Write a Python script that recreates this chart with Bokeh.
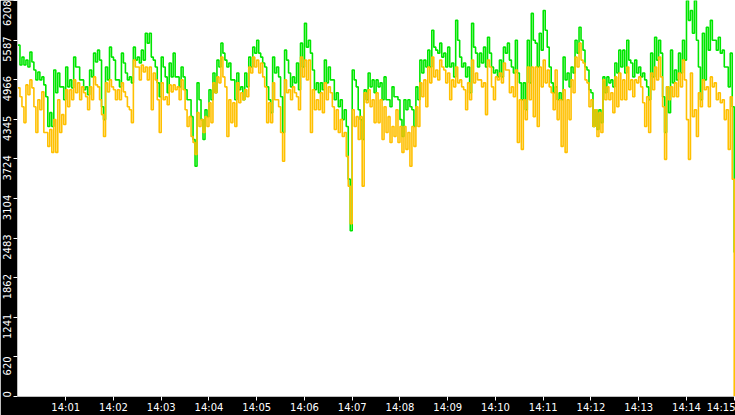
from bokeh.plotting import figure
from bokeh.models import Range1d, FixedTicker
from bokeh.embed import file_html
from bokeh.resources import INLINE

# samples every 2.5 s from 14:00:00 to 14:15:00 (seconds after 14:00:00)
seconds = [k * 2.5 for k in range(361)]

green_values = [
    5508, 5197, 5321, 5197, 5274, 5166, 5399, 5243, 5119, 4963, 5088, 4963, 5010, 4885, 4699, 4232, 4450, 4232, 5119, 4761,
    5072, 4854, 4854, 4652, 5166, 4854, 4963, 4839, 5321, 5166, 5166, 4963, 4963, 4808, 4854, 4730, 5119, 5010, 5383, 5243,
    5430, 5274, 4543, 4341, 5166, 4963, 5477, 5321, 5274, 4963, 4963, 4854, 5383, 5228, 5072, 4963, 5010, 4917, 5477, 5274,
    5321, 5228, 5430, 5274, 5695, 5539, 5695, 5321, 5274, 5166, 4917, 4699, 5321, 5166, 5010, 4761, 5228, 5010, 5383, 5010,
    5010, 4854, 5166, 5010, 4808, 4652, 4652, 4387, 4030, 3609, 4917, 4652, 4341, 4030, 4496, 4387, 4808, 4652, 5072, 4761,
    5274, 5166, 5539, 5383, 5274, 5166, 5228, 4963, 4963, 4652, 5072, 4808, 4854, 4652, 5072, 4854, 5321, 5166, 5477, 5383,
    5586, 5383, 5321, 5228, 5166, 4854, 4652, 4450, 5321, 5072, 5166, 5010, 4699, 4139, 5430, 5274, 5072, 4854, 5010, 4917,
    5228, 4808, 5539, 5166, 5850, 5477, 5586, 5383, 5119, 4808, 4917, 4761, 4917, 4808, 5274, 4917, 5166, 4963, 4963, 4652,
    4761, 4543, 4652, 4341, 4496, 4232, 3407, 2598, 5119, 4963, 4854, 4496, 4341, 4030, 4808, 4652, 5072, 4854, 4963, 4761,
    4963, 4854, 4917, 4652, 5010, 4652, 4652, 4543, 4854, 4699, 4699, 4652, 4341, 4076, 4652, 4496, 4652, 4543, 4496, 4232,
    4854, 4652, 5274, 5072, 5274, 5166, 5430, 5166, 5741, 5477, 5430, 5383, 5539, 5321, 5383, 5166, 5477, 5166, 5228, 5010,
    5897, 5586, 5321, 5166, 5228, 5010, 5166, 4761, 5850, 5477, 5383, 5166, 5383, 5228, 5477, 5166, 5632, 5383, 5166, 5072,
    5119, 5010, 5274, 5010, 5477, 5383, 5539, 5274, 5166, 5072, 5586, 5072, 4917, 4652, 4917, 4496, 5586, 4917, 6006, 5586,
    5539, 5166, 5695, 5430, 6052, 5741, 5477, 5166, 4917, 4761, 4854, 4652, 4761, 4652, 5321, 4963, 5072, 4854, 5166, 5072,
    5586, 5383, 5788, 5586, 5430, 5166, 5119, 4808, 4761, 4232, 4496, 4185, 4496, 4294, 5010, 4761, 5010, 4917, 4963, 4854,
    5228, 5072, 5430, 5166, 5430, 5072, 5586, 5274, 5228, 5010, 5274, 5072, 5166, 5010, 5072, 4963, 4854, 4652, 5383, 5010,
    5632, 5274, 5586, 5383, 4699, 4139, 4854, 4450, 5430, 4917, 5119, 4963, 5383, 5072, 5586, 5274, 6208, 5897, 6052, 5695,
    6208, 5586, 5166, 4652, 5695, 4963, 5788, 5430, 5897, 5586, 5586, 5430, 5632, 5383, 5430, 5166, 5166, 4854, 5383, 4543,
    2256,
]

orange_values = [
    4839, 4699, 4543, 4294, 4885, 4730, 4963, 4839, 4543, 4139, 4652, 4496, 4776, 4139, 4139, 3921, 4185, 3827, 4341, 3827,
    4652, 4139, 4419, 4263, 4808, 4543, 4808, 4652, 4963, 4761, 4917, 4652, 4854, 4761, 4699, 4496, 4854, 4652, 5010, 4885,
    4854, 4652, 4419, 4076, 4917, 4776, 4963, 4854, 4808, 4652, 4808, 4652, 4917, 4776, 4699, 4543, 4496, 4294, 5274, 5166,
    5166, 4963, 5197, 5088, 5166, 4963, 5166, 4496, 5072, 4963, 4652, 4139, 4917, 4652, 4699, 4574, 4885, 4776, 4885, 4808,
    4854, 4652, 4963, 4808, 4496, 4232, 4387, 4076, 3983, 3796, 4450, 4232, 4341, 4139, 4387, 4232, 4605, 4294, 4917, 4761,
    5010, 4917, 5321, 5010, 4854, 4076, 4652, 4294, 4605, 4232, 4917, 4605, 4761, 4652, 4808, 4699, 5166, 5072, 5321, 5166,
    5274, 5072, 5228, 5010, 4854, 4294, 4605, 4294, 4917, 4652, 4652, 4543, 4139, 3687, 4963, 4761, 4808, 4652, 4854, 4761,
    4699, 4496, 5321, 5010, 5274, 4963, 5274, 4139, 4808, 4496, 4652, 4496, 4761, 4450, 4917, 4652, 4854, 4761, 4543, 4185,
    4496, 4139, 4341, 4076, 4139, 3765, 3298, 2707, 4496, 4232, 4387, 4030, 4387, 3298, 4761, 4605, 4808, 4543, 4652, 4294,
    4761, 4294, 4652, 4030, 4543, 4139, 4387, 3983, 4232, 4076, 4496, 3983, 4232, 3827, 4232, 3874, 4139, 3609, 4232, 3921,
    4543, 4232, 4917, 4699, 4963, 4543, 5166, 4917, 5321, 5010, 5119, 4963, 5274, 5166, 5119, 4917, 5072, 4652, 4963, 4854,
    5166, 4917, 4963, 4854, 4808, 4496, 4917, 4652, 5274, 4917, 5072, 4963, 4963, 4854, 4917, 4419, 5274, 5166, 4854, 4652,
    5010, 4963, 5072, 4917, 5228, 5119, 5119, 4761, 4854, 4699, 5119, 3983, 4652, 3874, 4652, 4341, 5166, 4652, 5166, 4387,
    5166, 4232, 5166, 4854, 5274, 4917, 5119, 4854, 4761, 4496, 5119, 4341, 4652, 3921, 4808, 3827, 4652, 4341, 4963, 4761,
    5321, 5166, 5539, 5274, 5228, 4963, 4917, 4543, 4652, 4232, 4496, 4076, 4450, 4139, 4963, 4652, 4854, 4652, 4761, 4450,
    5010, 4543, 5072, 4652, 4963, 4652, 5166, 4808, 4963, 4699, 4963, 4917, 5010, 4854, 4605, 4232, 4699, 4139, 5072, 4808,
    5166, 4963, 5321, 5010, 4543, 3718, 4854, 4652, 4854, 4699, 4917, 4699, 5072, 4854, 5274, 4963, 4341, 3718, 5072, 4387,
    4496, 4076, 4761, 4543, 4963, 4808, 4854, 4543, 5010, 4854, 4917, 4652, 4761, 4605, 4652, 4341, 4496, 3874, 4699, 3407,
    0,
]

y_tick_values = [0, 620, 1241, 1862, 2483, 3104, 3724, 4345, 4966, 5587, 6208]
y_tick_labels = ["0", "620", "1241", "1862", "2483", "3104", "3724",
                 "4345", "4966", "5587", "6208"]

x_tick_seconds = [60, 120, 180, 240, 300, 360, 420, 480, 540, 600,
                  660, 720, 780, 840, 900]
x_tick_labels = ["14:01", "14:02", "14:03", "14:04", "14:05", "14:06", "14:07",
                 "14:08", "14:09", "14:10", "14:11", "14:12", "14:13", "14:14",
                 "14:15"]

GREEN = "#00e600"
ORANGE = "#ffc000"
FONT = "DejaVu Sans"

p = figure(width=735, height=415, output_backend="svg", toolbar_location=None,
           x_range=Range1d(-0.6, 901.6), y_range=Range1d(0, 6208),
           background_fill_color="white", border_fill_color="black",
           outline_line_color=None, min_border_left=0, min_border_right=0,
           min_border_top=0, min_border_bottom=0)

p.step(seconds, green_values, mode="after", line_color=GREEN, line_width=1.6)
p.step(seconds, orange_values, mode="after", line_color=ORANGE, line_width=1.6)

p.xgrid.visible = False
p.ygrid.visible = False

# y axis: each label sits just below its tick mark, as in the original
label_shift = 140
shifted = []
overrides = {}
for v, lab in zip(y_tick_values, y_tick_labels):
    s = v + 35 if v == 0 else v - label_shift
    shifted.append(s)
    overrides[s] = lab
yax = p.yaxis[0]
yax.ticker = FixedTicker(ticks=shifted, minor_ticks=y_tick_values)
yax.major_label_overrides = overrides
yax.major_label_orientation = "vertical"
yax.major_label_text_color = "white"
yax.major_label_text_font = FONT
yax.major_label_text_font_size = "10px"
yax.major_label_standoff = 2
yax.major_tick_line_color = None
yax.major_tick_out = 0
yax.major_tick_in = 0
yax.minor_tick_line_color = "white"
yax.minor_tick_out = 4
yax.minor_tick_in = 0
yax.axis_line_color = None

xax = p.xaxis[0]
xax.ticker = FixedTicker(ticks=x_tick_seconds)
xax.major_label_overrides = dict(zip(x_tick_seconds, x_tick_labels))
xax.major_label_text_color = "white"
xax.major_label_text_font = FONT
xax.major_label_text_font_size = "10px"
xax.major_label_standoff = 1
xax.major_tick_line_color = "white"
xax.major_tick_out = 4
xax.major_tick_in = 0
xax.minor_tick_line_color = None
xax.axis_line_color = None

open("out.html", "w").write(file_html(p, INLINE))
